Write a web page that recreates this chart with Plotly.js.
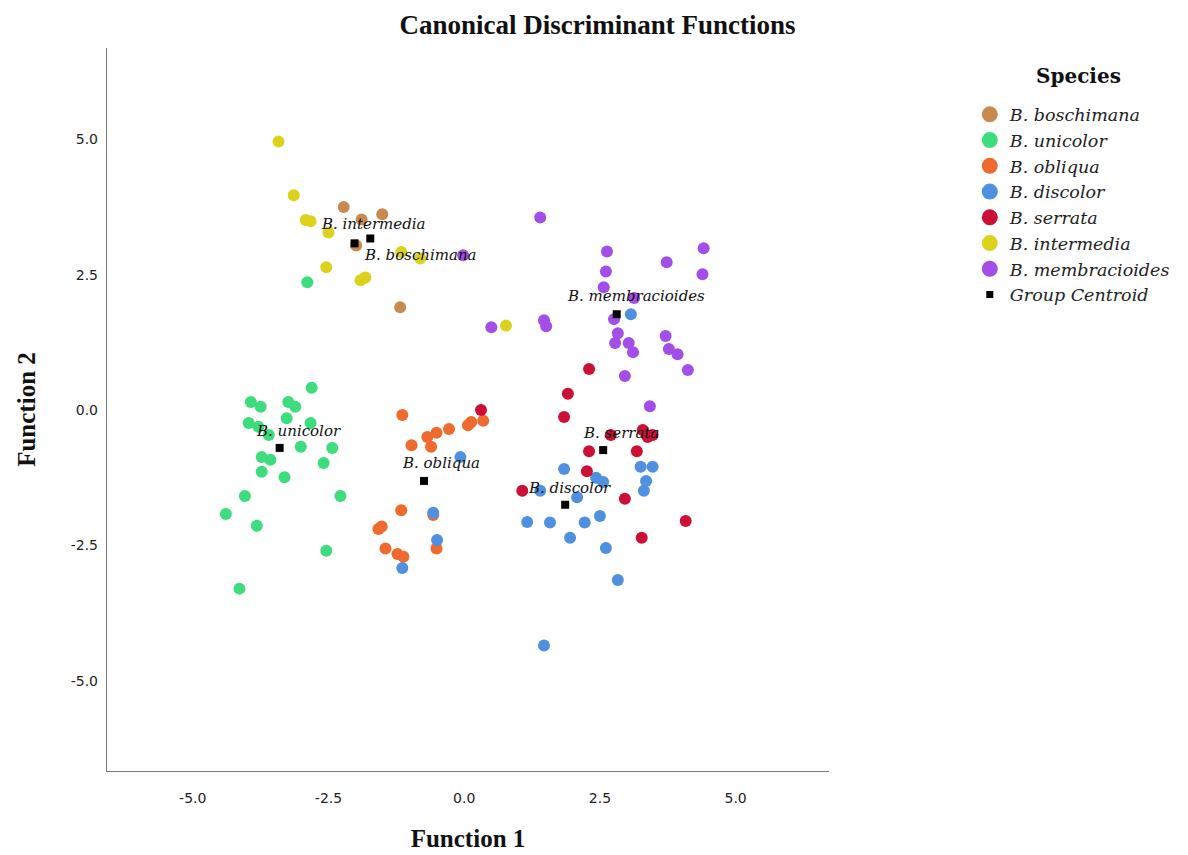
<!DOCTYPE html>
<html>
<head>
<meta charset="utf-8">
<script src="https://cdn.plot.ly/plotly-3.0.1.min.js"></script>
<style>html,body{margin:0;padding:0;background:#fff;}#chart{width:1188px;height:855px;}</style>
</head>
<body>
<div id="chart"></div>
<script>
// ---- data ----
const speciesNames = ["B. boschimana","B. unicolor","B. obliqua","B. discolor","B. serrata","B. intermedia","B. membracioides"];

const boschimanaX = [-2.22,-1.89,-1.51,-1.99,-1.18];
const boschimanaY = [3.75,3.52,3.62,3.04,1.90];

const unicolorX = [-2.89,-2.81,-3.93,-3.75,-3.24,-3.11,-3.97,-3.79,-3.27,-2.83,-3.01,-2.43,-3.73,-3.57,-2.59,-3.73,-3.31,-4.04,-2.28,-4.39,-3.82,-2.54,-4.14,-3.60];
const unicolorY = [2.36,0.41,0.15,0.06,0.15,0.06,-0.24,-0.31,-0.15,-0.24,-0.68,-0.70,-0.87,-0.92,-0.98,-1.14,-1.24,-1.59,-1.59,-1.92,-2.14,-2.60,-3.30,-0.46];

const obliquaX = [-1.14,0.13,0.35,0.07,-0.28,-0.68,-0.51,-0.97,-0.61,-1.16,-1.58,-1.52,-0.51,-1.45,-1.23,-1.12,-0.57];
const obliquaY = [-0.09,-0.22,-0.20,-0.28,-0.35,-0.50,-0.42,-0.65,-0.68,-1.85,-2.20,-2.15,-2.56,-2.56,-2.66,-2.71,-1.94];

const discolorX = [3.07,-0.07,-0.57,-0.50,-1.14,1.84,2.43,2.56,3.25,3.47,3.35,3.31,1.40,2.08,1.16,1.58,2.22,2.50,1.95,2.61,2.83,1.47];
const discolorY = [1.77,-0.87,-1.90,-2.40,-2.92,-1.09,-1.25,-1.33,-1.05,-1.05,-1.31,-1.49,-1.49,-1.61,-2.07,-2.08,-2.08,-1.96,-2.36,-2.55,-3.14,-4.35];

const serrataX = [2.30,1.91,1.84,0.31,2.70,3.29,3.38,3.47,2.30,3.18,2.26,1.07,2.96,4.08,3.27];
const serrataY = [0.76,0.30,-0.13,0.00,-0.46,-0.37,-0.50,-0.46,-0.76,-0.76,-1.13,-1.49,-1.64,-2.05,-2.36];

const intermediaX = [-3.42,-3.14,-2.92,-2.83,-2.50,-2.54,-1.91,-1.82,-1.16,-0.81,0.77];
const intermediaY = [4.96,3.97,3.51,3.49,3.28,2.64,2.40,2.45,2.92,2.80,1.56];

const membracioidesX = [-0.02,0.50,1.40,2.63,2.61,2.57,3.13,3.73,4.41,4.39,1.47,1.51,2.76,2.83,2.78,3.03,3.11,3.71,3.77,3.93,4.12,2.96,3.42];
const membracioidesY = [2.86,1.53,3.56,2.93,2.56,2.27,2.07,2.73,2.99,2.51,1.66,1.55,1.68,1.42,1.24,1.24,1.07,1.37,1.13,1.03,0.74,0.63,0.07];

const centroidNames = ["B. boschimana","B. unicolor","B. obliqua","B. discolor","B. serrata","B. intermedia","B. membracioides"];
const centroidX = [-1.73,-3.40,-0.74,1.86,2.56,-2.02,2.81];
const centroidY = [3.17,-0.70,-1.31,-1.75,-0.74,3.08,1.77];

const tickValues = [-5,-2.5,0,2.5,5];
const tickLabels = ["-5.0","-2.5","0.0","2.5","5.0"];
const legendTitle = "Species";

// ---- styles ----
const colors = ["#c98a50","#3ddc7c","#ee6a2e","#4f91e0","#cc1035","#dcd21c","#a44ee8"];
const labelShiftX = [50,19,17,4,18,19,19];
const labelShiftY = [-17,17,18,17,17,19,18];

const seriesX = [boschimanaX,unicolorX,obliquaX,discolorX,serrataX,intermediaX,membracioidesX];
const seriesY = [boschimanaY,unicolorY,obliquaY,discolorY,serrataY,intermediaY,membracioidesY];

const traces = [];
// plotted points (legend entries are drawn by the key traces below with bigger symbols)
speciesNames.forEach((name,i)=>{
  traces.push({
    type:'scatter', mode:'markers', name:name, showlegend:false,
    x:seriesX[i], y:seriesY[i],
    marker:{color:colors[i], size:12, line:{width:0}},
    hoverinfo:'skip'
  });
});
traces.push({
  type:'scatter', mode:'markers', name:'Group Centroid', showlegend:false,
  x:centroidX, y:centroidY,
  marker:{color:'#000', size:8, symbol:'square', line:{width:0}},
  hoverinfo:'skip'
});
// legend keys
speciesNames.forEach((name,i)=>{
  traces.push({
    type:'scatter', mode:'markers', name:name, showlegend:true,
    x:[null], y:[null],
    marker:{color:colors[i], size:20, line:{width:0}},
    hoverinfo:'skip'
  });
});
traces.push({
  type:'scatter', mode:'markers', name:'Group Centroid', showlegend:true,
  x:[null], y:[null],
  marker:{color:'#000', size:7, symbol:'square', line:{width:0}},
  hoverinfo:'skip'
});

const annotations = centroidNames.map((n,i)=>({
  x:centroidX[i], y:centroidY[i], xref:'x', yref:'y',
  text:n, showarrow:false, xshift:labelShiftX[i], yshift:labelShiftY[i],
  font:{family:'DejaVu Serif', size:15, style:'italic', color:'#111'}
}));
// legend heading
annotations.push({
  xref:'paper', yref:'paper', x:1.345, y:0.961, xanchor:'center', yanchor:'middle',
  text:legendTitle, showarrow:false,
  font:{family:'DejaVu Serif', size:20, weight:'bold', color:'#111'}
});

const axisCommon = {
  showgrid:false, zeroline:false, showline:true, linecolor:'#777', linewidth:1.2,
  ticks:'', tickvals:tickValues, ticktext:tickLabels,
  tickfont:{family:'DejaVu Sans', size:14, color:'#222'},
  fixedrange:true
};

const layout = {
  width:1188, height:855,
  margin:{l:107, r:352, t:48, b:84},
  paper_bgcolor:'#fff', plot_bgcolor:'#fff',
  title:{text:'Canonical Discriminant Functions', x:0.503, xref:'container', y:0.971, yref:'container', yanchor:'middle',
    font:{family:'Liberation Serif', size:27, weight:'bold', color:'#111'}},
  xaxis:Object.assign({}, axisCommon, {range:[-6.58,6.72], ticklabelstandoff:14,
    title:{text:'Function 1', standoff:24, font:{family:'Liberation Serif', size:25, weight:'bold', color:'#111'}}}),
  yaxis:Object.assign({}, axisCommon, {range:[-6.67,6.69], ticklabelstandoff:5,
    title:{text:'Function 2', standoff:28, font:{family:'Liberation Serif', size:25, weight:'bold', color:'#111'}}}),
  showlegend:true,
  legend:{x:1.195, xanchor:'left', y:0.933, yanchor:'top', bgcolor:'rgba(0,0,0,0)', borderwidth:0,
    itemsizing:'trace', itemclick:false, itemdoubleclick:false, tracegroupgap:0,
    font:{family:'DejaVu Serif', size:17.5, style:'italic', color:'#222'}},
  annotations:annotations
};

Plotly.newPlot('chart', traces, layout, {displayModeBar:false, staticPlot:true});
</script>
</body>
</html>
